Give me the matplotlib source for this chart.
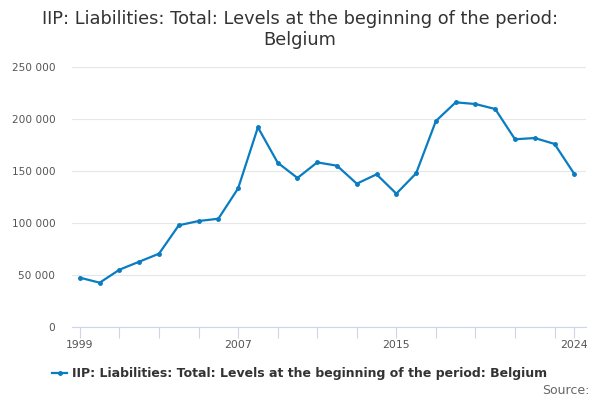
import matplotlib
matplotlib.use("Agg")
import matplotlib.pyplot as plt
from matplotlib.ticker import FuncFormatter

years = list(range(1999, 2025))
values = [47400, 42600, 55100, 62800, 70500, 97800, 101900, 104100, 133300, 192000,
          158000, 143300, 158300, 155100, 137800, 146800, 128200, 147800, 198100, 216000,
          214400, 209600, 180500, 181700, 176000, 147100]
series_name = "IIP: Liabilities: Total: Levels at the beginning of the period: Belgium"
title = "IIP: Liabilities: Total: Levels at the beginning of the period:\nBelgium"
label_years = [1999, 2007, 2015, 2024]
tick_years = list(range(1999, 2024, 2)) + [2024]
yticks = [0, 50000, 100000, 150000, 200000, 250000]

line_color = "#0a7cc1"
plt.rcParams['font.family'] = ['DejaVu Sans']

fig = plt.figure(figsize=(6, 4), dpi=100)
ax = fig.add_axes([0.12, 0.1825, 0.857, 0.65])

ax.plot(years, values, color=line_color, lw=1.6, marker='o', ms=2.5, zorder=3)

ax.set_xlim(1998.6, 2024.6)
ax.set_ylim(0, 250000)
ax.set_yticks(yticks)
ax.yaxis.set_major_formatter(FuncFormatter(lambda v, p: f"{int(v):,}".replace(",", " ")))
ax.grid(axis='y', color='#e6e6e6', lw=0.8)
ax.set_axisbelow(True)

ax.set_xticks(tick_years)
ax.set_xticklabels([str(y) if y in label_years else "" for y in tick_years])
ax.tick_params(axis='x', length=8, color='#ccd6eb', labelsize=7.8, labelcolor='#555555', pad=1)
ax.tick_params(axis='y', length=0, labelsize=7.6, labelcolor='#555555', pad=12)

for s in ['top', 'right', 'left']:
    ax.spines[s].set_visible(False)
ax.spines['bottom'].set_color('#ccd6eb')

fig.text(0.5, 0.975, title, ha='center', va='top', fontsize=12.8, color='#333333', linespacing=1.2)

leg_line, = ax.plot([], [], color=line_color, lw=1.6, marker='o', ms=2.5)
fig.legend([leg_line], [series_name], loc='center', bbox_to_anchor=(0.5, 0.065), frameon=False,
           prop={'weight': 'bold', 'size': 9}, labelcolor='#333333', handlelength=1.2,
           handletextpad=0.4)
fig.text(0.982, 0.008, "Source:", ha='right', va='bottom', fontsize=9, color='#666666')

fig.savefig("out.png", dpi=100)
